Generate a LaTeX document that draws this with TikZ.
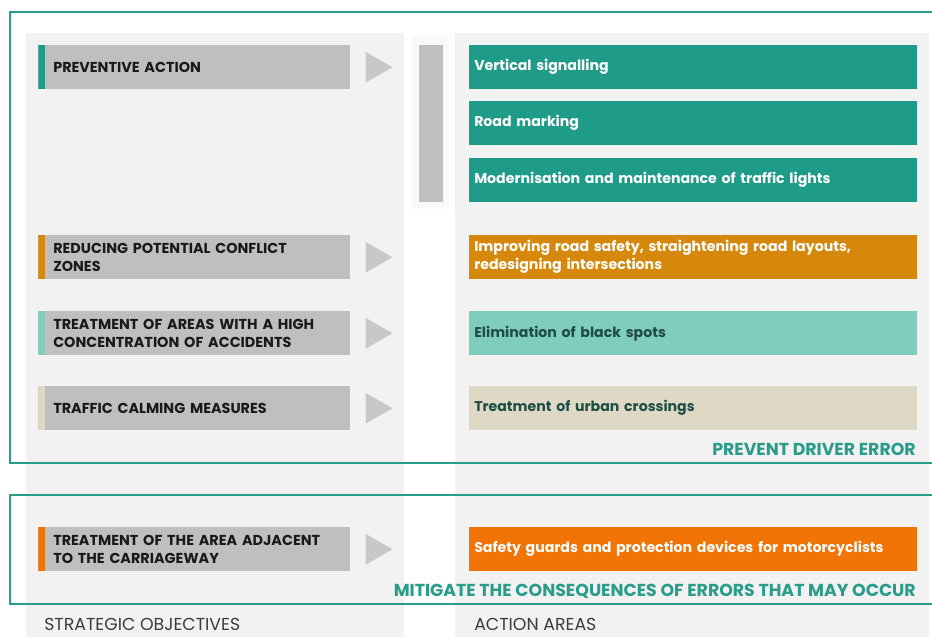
\documentclass[tikz,border=0pt]{standalone}
\usepackage{fontspec}
\setmainfont{Poppins}
\usepackage{xcolor}
\usetikzlibrary{positioning}
\definecolor{frameteal}{HTML}{2A9C8A}
\definecolor{darkteal}{HTML}{1F9C88}
\definecolor{paleteal}{HTML}{80CCBD}
\definecolor{ochre}{HTML}{D6880C}
\definecolor{tan}{HTML}{DDD9C4}
\definecolor{brightorange}{HTML}{F27407}
\definecolor{boxgray}{HTML}{BFBFBF}
\definecolor{pointergray}{HTML}{C8C8C8}
\definecolor{panelgray}{HTML}{F2F2F2}
\definecolor{inkgreen}{HTML}{1E4D45}
\definecolor{labelgray}{HTML}{3C3C3C}
\tikzset{
  panel/.style={fill=panelgray},
  frame/.style={draw=frameteal, line width=1.5pt},
  objbox/.style={fill=boxgray, anchor=north west, minimum width=234pt, minimum height=33pt,
    inner xsep=11.25pt, text width=211.5pt, align=left, text=black!90,
    font=\bfseries\fontsize{10.8}{13.5}\selectfont,
    path picture={\fill[#1] (path picture bounding box.south west) rectangle ([xshift=5.25pt]path picture bounding box.north west);}},
  actbox/.style={fill=#1, anchor=north west, minimum width=336pt, minimum height=33pt,
    inner xsep=3.75pt, text width=328.5pt, align=left, text=white,
    font=\bfseries\fontsize{10.6}{13.5}\selectfont},
  pointer/.style={fill=pointergray},
  goal/.style={text=frameteal, font=\bfseries\fontsize{13}{15}\selectfont, anchor=base east, inner sep=0pt},
  colhead/.style={text=labelgray, font=\fontsize{13}{15}\selectfont, anchor=base west, inner sep=0pt}
}
\begin{document}
\begin{tikzpicture}[x=0.75pt,y=-0.75pt]
  \useasboundingbox[fill=white] (0,0) rectangle (932,636);
  % column backgrounds
  \fill[panel] (26,33) rectangle (404,640);
  \fill[panel] (455,33) rectangle (929,640);
  \fill[panelgray!50] (412,36) rectangle (449,209);
  \fill[boxgray] (419,45) rectangle (443,202);
  % strategic objectives
  \node[objbox=darkteal] (prevent) at (38,45) {PREVENTIVE ACTION};
  \node[objbox=ochre] (conflict) at (38,235) {REDUCING POTENTIAL CONFLICT\\ZONES};
  \node[objbox=paleteal] (blackspot) at (38,311) {TREATMENT OF AREAS WITH A HIGH\\CONCENTRATION OF ACCIDENTS};
  \node[objbox=tan] (calming) at (38,386) {TRAFFIC CALMING MEASURES};
  \node[objbox=brightorange] (roadside) at (38,527) {TREATMENT OF THE AREA ADJACENT\\TO THE CARRIAGEWAY};
  \foreach \n in {prevent,conflict,blackspot,calming,roadside}
    \fill[pointer] ([xshift=11.25pt,yshift=11.6pt]\n.east) -- ++(20.25pt,-11.6pt) -- ++(-20.25pt,-11.6pt) -- cycle;
  % action areas
  \node[actbox=darkteal] (signs) at (469,45) {Vertical signalling};
  \node[actbox=darkteal] (marking) at (469,101) {Road marking};
  \node[actbox=darkteal] (lights) at (469,158) {Modernisation and maintenance of traffic lights};
  \node[actbox=ochre] (layout) at (469,235) {Improving road safety, straightening road layouts,\\redesigning intersections};
  \node[actbox=paleteal, text=inkgreen] (spots) at (469,311) {Elimination of black spots};
  \node[actbox=tan, text=inkgreen] (crossings) at (469,386) {Treatment of urban crossings};
  \node[actbox=brightorange] (guards) at (469,527) {Safety guards and protection devices for motorcyclists};
  % outcome frames
  \draw[frame] (10,12) rectangle (940,463);
  \draw[frame] (10,495) rectangle (940,604);
  \node[goal] (prevgoal) at (916,455) {PREVENT DRIVER ERROR};
  \node[goal] (mitgoal) at (916,596) {MITIGATE THE CONSEQUENCES OF ERRORS THAT MAY OCCUR};
  \node[colhead] (objhead) at (44,630) {STRATEGIC OBJECTIVES};
  \node[colhead] (acthead) at (474,630) {ACTION AREAS};
\end{tikzpicture}
\end{document}
